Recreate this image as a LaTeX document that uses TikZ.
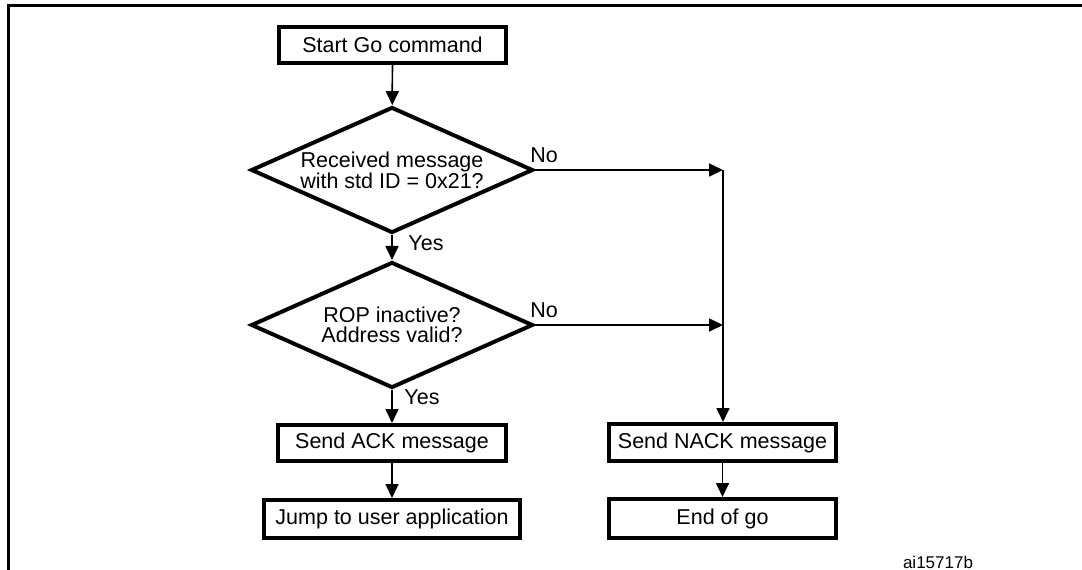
\documentclass[tikz,border=0pt]{standalone}
\usepackage{fontspec}
\setmainfont{Liberation Sans}
\usetikzlibrary{shapes.geometric,arrows.meta}
\begin{document}
\begin{tikzpicture}[x=1pt,y=-1pt,
  txt/.style={font=\fontsize{21.5}{20}\selectfont},
  box/.style={txt,draw,line width=4pt,rectangle,inner sep=0pt,align=center},
  dia/.style={txt,draw,line width=4pt,diamond,aspect=2.2,inner sep=0pt,
              minimum width=282pt,minimum height=126pt,align=center},
  conn/.style={line width=1.7pt,-{Triangle[length=14pt,width=13pt]}},
  lbl/.style={txt,inner sep=0pt},
  frameline/.style={line width=3pt,line join=miter}]
\useasboundingbox (0,0) rectangle (1082,570);
% frame
\coordinate (fA) at (8,572);
\coordinate (fB) at (8,5.5);
\coordinate (fC) at (1084,5.5);
\draw[frameline] (fA) -- (fB) -- (fC);
% nodes
\node[box,minimum width=227pt,minimum height=36pt] (start) at (392.5,45) {Start Go command};
\node[dia] (d1) at (392,170) {Received message\\with std ID = 0x21?};
\node[dia] (d2) at (392,325) {ROP inactive?\\Address valid?};
\node[box,minimum width=228pt,minimum height=36pt] (ack) at (392,443) {Send ACK message};
\node[box,minimum width=256pt,minimum height=38pt] (jump) at (392,519) {Jump to user application};
\node[box,minimum width=227pt,minimum height=37pt] (nack) at (722.5,442.5) {Send NACK message};
\node[box,minimum width=227pt,minimum height=39pt] (endgo) at (722.5,518.5) {End of go};
\coordinate (j1) at (723,170);
\coordinate (j2) at (723,325);
% connectors
\draw[conn] (start) -- (d1);
\draw[conn] (d1) -- (d2);
\draw[conn] (d2) -- (ack);
\draw[conn] (ack) -- (jump);
\draw[conn] (d1.east) -- (j1);
\draw[conn] (d2.east) -- (j2);
\draw[conn] (j1) -- (nack.north -| j1);
\draw[conn] (nack) -- (endgo);
% labels
\node[lbl] (no1) at (544,155) {No};
\node[lbl] (no2) at (544,310) {No};
\node[lbl] (yes1) at (426,243) {Yes};
\node[lbl] (yes2) at (422,397) {Yes};
\node[font=\fontsize{17}{17}\selectfont,inner sep=0pt] (ref) at (938,562) {ai15717b};
\end{tikzpicture}
\end{document}
